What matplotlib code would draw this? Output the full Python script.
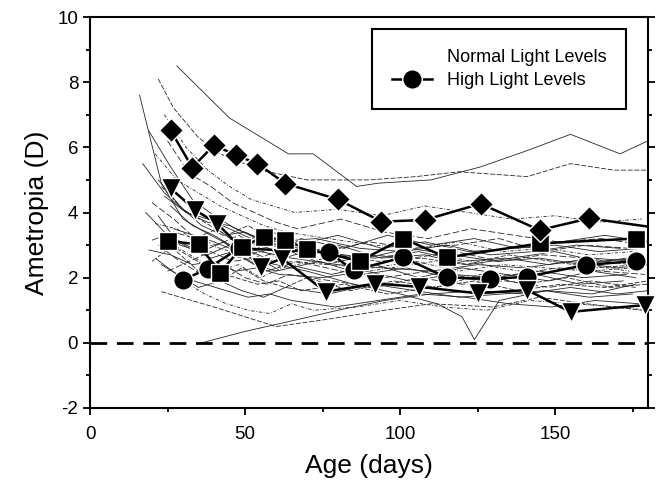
import numpy as np
import matplotlib
matplotlib.use('Agg')
import matplotlib.pyplot as plt
from matplotlib.lines import Line2D
from matplotlib.ticker import MultipleLocator

plt.rcParams['font.family'] = ['Liberation Sans', 'DejaVu Sans']
plt.rcParams['axes.unicode_minus'] = False

# high light levels - group means (4 animals)
circ_age = [30, 38, 48, 77, 85, 101, 115, 129, 141, 160, 176]
circ_val = [1.93, 2.28, 2.9, 2.78, 2.23, 2.62, 2.01, 1.96, 2.03, 2.39, 2.51]
tri_age = [26, 34, 41, 55, 62, 76, 92, 106, 125, 141, 155, 179]
tri_val = [4.74, 4.07, 3.66, 2.33, 2.59, 1.57, 1.82, 1.72, 1.52, 1.62, 0.95, 1.16]
sq_age = [25, 35, 42, 49, 56, 63, 70, 87, 101, 115, 145, 176]
sq_val = [3.13, 3.02, 2.15, 2.95, 3.25, 3.15, 2.88, 2.51, 3.2, 2.62, 3.05, 3.2]
dia_age = [26, 33, 40, 47, 54, 63, 80, 94, 108, 126, 145, 161, 185]
dia_val = [6.52, 5.38, 6.07, 5.76, 5.5, 4.89, 4.40, 3.72, 3.77, 4.27, 3.46, 3.82, 3.5]

# normal light levels - individual animals
n01_age = [16, 23, 30, 37, 45, 55, 65, 80, 95, 110, 125, 140, 155, 170, 180]
n01_val = [7.6, 4.9, 3.8, 3.4, 3.0, 2.8, 2.6, 2.4, 2.3, 2.2, 2.4, 2.3, 2.5, 2.3, 2.4]
n02_age = [22, 27, 35, 42, 55, 70, 90, 105, 119, 141, 155, 169, 180]
n02_val = [8.1, 7.2, 6.3, 5.8, 5.3, 5.0, 5.0, 5.1, 5.25, 5.1, 5.5, 5.3, 5.3]
n03_age = [28, 45, 64, 72, 86, 93, 110, 126, 141, 155, 171, 180]
n03_val = [8.5, 6.9, 5.8, 5.8, 4.8, 4.9, 5.0, 5.4, 5.9, 6.4, 5.8, 6.2]
n04_age = [21, 28, 35, 42, 49, 56, 63, 77, 91, 105, 119, 133, 147, 161, 175]
n04_val = [5.8, 5.0, 4.6, 4.2, 3.9, 3.6, 3.4, 3.2, 3.0, 2.9, 3.1, 2.8, 2.9, 2.7, 2.8]
n05_age = [22, 29, 36, 43, 50, 57, 64, 78, 92, 106, 120, 134, 148, 162, 176]
n05_val = [5.0, 4.2, 3.6, 3.3, 3.4, 3.1, 2.9, 2.7, 2.6, 2.8, 2.5, 2.6, 2.4, 2.6, 2.5]
n06_age = [20, 27, 34, 41, 48, 55, 62, 76, 90, 104, 118, 132, 146, 160, 174]
n06_val = [3.15, 3.4, 3.2, 3.0, 3.3, 2.9, 3.0, 2.8, 3.1, 2.9, 3.0, 3.2, 2.8, 3.0, 2.9]
n07_age = [19, 26, 33, 40, 47, 54, 61, 75, 89, 103, 117, 131, 145, 159, 173]
n07_val = [2.85, 2.7, 2.4, 2.5, 2.2, 2.3, 2.1, 2.0, 2.2, 1.9, 2.1, 2.0, 2.2, 2.0, 2.1]
n08_age = [23, 40, 60, 75, 95, 110, 130, 145, 160, 178]
n08_val = [1.57, 1.1, 0.5, 0.7, 1.0, 1.2, 1.1, 1.4, 1.2, 1.0]
n09_age = [36, 50, 64, 80, 95, 110, 125, 140, 155, 170, 180]
n09_val = [0.0, 0.35, 0.65, 1.0, 1.3, 1.5, 1.6, 1.5, 1.7, 1.5, 1.6]
n10_age = [21, 28, 35, 42, 49, 56, 63, 77, 91, 105, 119, 133, 147, 161, 175]
n10_val = [3.66, 3.5, 3.1, 2.9, 2.7, 2.8, 2.5, 2.4, 2.3, 2.5, 2.2, 2.4, 2.3, 2.2, 2.3]
n11_age = [24, 31, 38, 45, 52, 59, 66, 80, 94, 108, 122, 136, 150, 164, 178]
n11_val = [4.5, 4.0, 3.8, 3.5, 3.2, 3.4, 3.0, 3.3, 2.9, 3.1, 2.8, 2.9, 3.0, 2.8, 2.9]
n12_age = [25, 32, 39, 46, 53, 60, 67, 81, 95, 109, 123, 137, 151, 165, 179]
n12_val = [6.2, 5.2, 4.8, 4.3, 4.0, 3.7, 3.5, 3.8, 3.4, 3.2, 3.5, 3.3, 3.1, 3.2, 3.0]
n13_age = [18, 25, 32, 39, 46, 53, 60, 74, 88, 102, 116, 130, 144, 158, 172]
n13_val = [4.0, 3.3, 2.9, 2.6, 2.8, 2.4, 2.2, 2.5, 2.1, 2.3, 2.0, 1.9, 2.1, 1.8, 1.9]
n14_age = [26, 33, 40, 47, 54, 61, 68, 82, 96, 110, 124, 138, 152, 166, 180]
n14_val = [3.0, 2.6, 2.2, 2.0, 1.8, 1.9, 1.6, 1.8, 1.5, 1.7, 1.9, 1.6, 1.8, 1.7, 1.9]
n15_age = [23, 30, 37, 44, 51, 58, 65, 79, 93, 107, 121, 135, 149, 163, 177]
n15_val = [2.4, 2.0, 1.8, 1.6, 1.4, 1.5, 1.3, 1.1, 1.3, 1.5, 1.4, 1.2, 1.1, 1.3, 1.2]
n16_age = [24, 31, 38, 45, 52, 59, 66, 80, 94, 108, 122, 136, 150, 164, 178]
n16_val = [7.0, 6.0, 5.3, 4.8, 4.4, 4.2, 4.0, 4.1, 3.9, 4.2, 4.0, 3.8, 3.9, 3.7, 3.8]
n17_age = [27, 40, 55, 70, 85, 100, 112, 120, 124, 132, 147, 162, 176]
n17_val = [3.5, 3.1, 2.5, 2.2, 1.8, 1.5, 1.2, 0.8, 0.1, 1.3, 1.6, 1.5, 1.8]
n18_age = [20, 27, 34, 41, 48, 55, 62, 76, 90, 104, 118, 132, 146, 160, 174]
n18_val = [4.3, 3.8, 3.2, 3.5, 3.0, 2.6, 2.9, 2.4, 2.7, 2.6, 2.8, 2.5, 2.7, 2.6, 2.4]
n19_age = [22, 29, 36, 43, 50, 57, 64, 78, 92, 106, 120, 134, 148, 162, 176]
n19_val = [3.9, 3.0, 2.8, 3.1, 2.6, 2.2, 2.4, 2.1, 2.4, 2.0, 2.3, 2.1, 1.9, 2.2, 2.0]
n20_age = [28, 35, 42, 49, 56, 63, 70, 84, 98, 112, 126, 140, 154, 168, 180]
n20_val = [2.8, 2.2, 1.9, 2.3, 1.9, 1.7, 2.0, 1.6, 1.9, 1.7, 2.1, 1.8, 2.0, 1.7, 1.8]
n21_age = [17, 24, 31, 38, 45, 52, 59, 73, 87, 101, 115, 129, 143, 157, 171]
n21_val = [5.5, 4.6, 4.0, 3.7, 3.6, 3.3, 3.1, 3.2, 2.9, 2.8, 3.0, 2.7, 2.8, 3.0, 2.9]
n22_age = [30, 37, 44, 51, 58, 65, 72, 86, 100, 114, 128, 142, 156, 170, 180]
n22_val = [1.9, 1.5, 1.2, 1.0, 0.9, 1.2, 1.0, 1.1, 1.3, 1.1, 1.0, 1.3, 1.2, 1.1, 1.0]
n23_age = [19, 26, 33, 40, 47, 54, 61, 75, 89, 103, 117, 131, 145, 159, 173]
n23_val = [6.5, 5.4, 4.4, 3.9, 3.5, 3.2, 3.0, 2.8, 2.6, 2.9, 2.7, 2.5, 2.6, 2.4, 2.6]
n24_age = [25, 32, 39, 46, 53, 60, 67, 81, 95, 109, 123, 137, 151, 165, 179]
n24_val = [2.2, 2.5, 2.8, 2.5, 2.6, 2.3, 2.5, 2.2, 2.0, 2.2, 2.0, 2.1, 2.3, 2.2, 2.1]
n25_age = [21, 28, 35, 42, 49, 56, 63, 77, 91, 105, 119, 133, 147, 161, 175]
n25_val = [2.6, 2.1, 1.7, 1.9, 1.6, 1.4, 1.7, 1.5, 1.8, 1.6, 1.4, 1.5, 1.6, 1.4, 1.5]
n26_age = [23, 30, 37, 44, 51, 58, 65, 79, 93, 107, 121, 135, 149, 163, 177]
n26_val = [4.8, 4.1, 3.7, 3.3, 3.6, 3.2, 2.9, 2.7, 2.5, 2.6, 2.4, 2.7, 2.5, 2.3, 2.4]
n27_age = [24, 31, 38, 45, 52, 59, 66, 80, 94, 108, 122, 136, 150, 164, 178]
n27_val = [3.4, 3.0, 2.7, 3.0, 2.8, 2.5, 2.7, 3.0, 2.6, 2.7, 2.4, 2.6, 2.8, 2.5, 2.6]
n28_age = [20, 27, 34, 41, 48, 55, 62, 76, 90, 104, 118, 132, 146, 160, 174]
n28_val = [2.5, 3.0, 2.6, 2.2, 2.4, 2.0, 2.3, 2.6, 2.2, 2.4, 2.6, 2.3, 2.1, 2.4, 2.2]
n29_age = [26, 33, 40, 47, 54, 61, 68, 82, 96, 110, 124, 138, 152, 166, 180]
n29_val = [4.2, 3.6, 3.3, 2.9, 3.1, 2.7, 3.2, 2.9, 3.3, 3.0, 3.2, 2.9, 3.1, 3.3, 3.1]
n30_age = [22, 29, 36, 43, 50, 57, 64, 78, 92, 106, 120, 134, 148, 162, 176]
n30_val = [3.0, 2.5, 2.1, 2.4, 2.0, 1.8, 2.1, 1.9, 1.7, 2.0, 1.8, 1.9, 1.7, 1.9, 1.7]

normal = [(n01_age, n01_val), (n02_age, n02_val), (n03_age, n03_val), (n04_age, n04_val),
          (n05_age, n05_val), (n06_age, n06_val), (n07_age, n07_val), (n08_age, n08_val),
          (n09_age, n09_val), (n10_age, n10_val), (n11_age, n11_val), (n12_age, n12_val),
          (n13_age, n13_val), (n14_age, n14_val), (n15_age, n15_val), (n16_age, n16_val),
          (n17_age, n17_val), (n18_age, n18_val), (n19_age, n19_val), (n20_age, n20_val),
          (n21_age, n21_val), (n22_age, n22_val), (n23_age, n23_val), (n24_age, n24_val),
          (n25_age, n25_val), (n26_age, n26_val), (n27_age, n27_val), (n28_age, n28_val),
          (n29_age, n29_val), (n30_age, n30_val)]
thin_styles = ['-', (0, (6, 2)), '-', (0, (4, 2, 1, 2)), '-', (0, (8, 3))]

fig = plt.figure(figsize=(6.58, 4.87), dpi=100)
ax = fig.add_axes([90 / 658, 1 - 408 / 487, 558 / 658, 391 / 487])

for i, (a, v) in enumerate(normal):
    ax.plot(a, v, color='0.15', lw=0.6, ls=thin_styles[i % len(thin_styles)], zorder=2)

ax.axhline(0, color='k', lw=2.0, ls=(0, (6, 3.5)), zorder=3)

mk = dict(color='k', lw=1.8, markersize=14, markeredgecolor='white',
          markeredgewidth=1.0, zorder=4)
ax.plot(circ_age, circ_val, marker='o', clip_on=False, **mk)
ax.plot(tri_age, tri_val, marker='v', clip_on=False, **dict(mk, markersize=15))
ax.plot(sq_age, sq_val, marker='s', clip_on=False, **dict(mk, markersize=12.5))
ax.plot(dia_age, dia_val, marker='D', markevery=slice(0, len(dia_age) - 1),
        **dict(mk, markersize=12.5))

ax.set_xlim(0, 180)
ax.set_ylim(-2, 10)
ax.xaxis.set_major_locator(MultipleLocator(50))
ax.xaxis.set_minor_locator(MultipleLocator(25))
ax.yaxis.set_major_locator(MultipleLocator(2))
ax.yaxis.set_minor_locator(MultipleLocator(1))
ax.tick_params(which='both', direction='out', width=1.3, labelsize=13.5,
               right=True, top=False, colors='k')
ax.tick_params(which='major', length=5)
ax.tick_params(which='minor', length=3)
ax.tick_params(axis='x', pad=8)
for s in ax.spines.values():
    s.set_linewidth(1.5)

ax.set_xlabel('Age (days)', fontsize=19, labelpad=8)
ax.set_ylabel('Ametropia (D)', fontsize=19, labelpad=6)

handles = [Line2D([], [], color='none'),
           Line2D([], [], color='k', lw=1.8, marker='o', markersize=14,
                  markeredgecolor='white', markeredgewidth=1.0)]
leg = ax.legend(handles, ['Normal Light Levels', 'High Light Levels'],
                loc='upper right', bbox_to_anchor=(626 / 658, 1 - 29 / 487),
                bbox_transform=fig.transFigure, fontsize=13, handlelength=2.2,
                handletextpad=0.8, borderpad=1.1, labelspacing=0.35,
                fancybox=False, framealpha=1, edgecolor='k', borderaxespad=0)
leg.get_frame().set_linewidth(1.5)

fig.savefig('out.png', dpi=100)
